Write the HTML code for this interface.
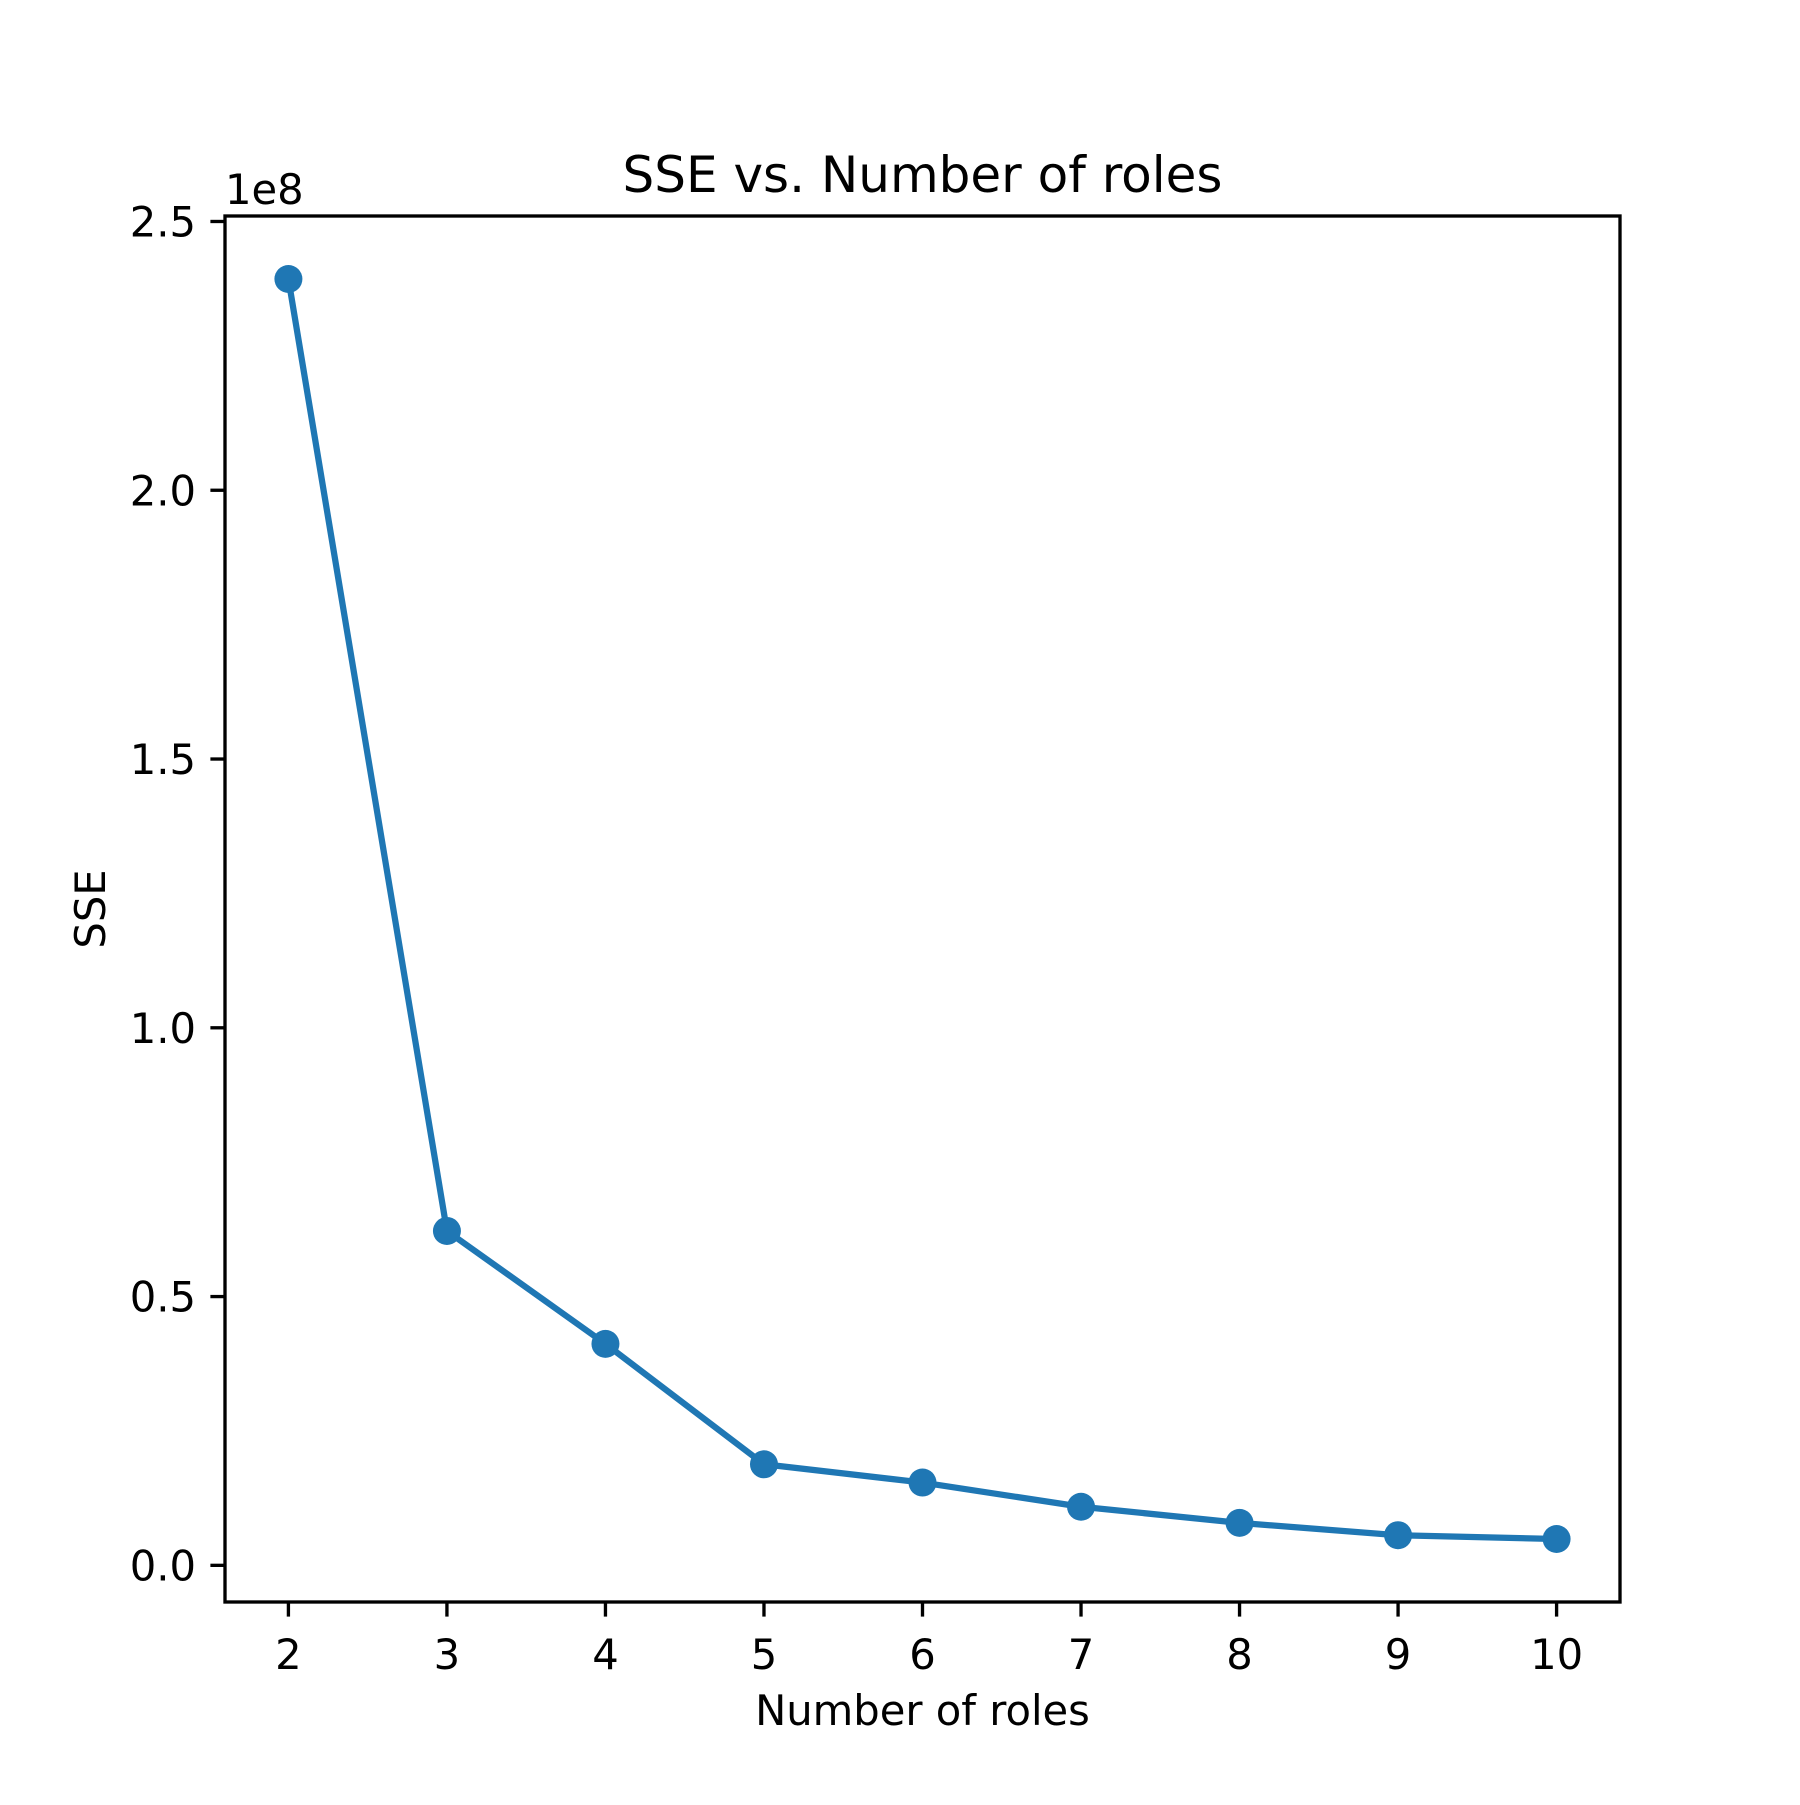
<!DOCTYPE html>
<html><head><meta charset="utf-8"><style>
body{margin:0;background:#fff}
svg text{font-family:"DejaVu Sans","Liberation Sans",sans-serif;fill:#000}
</style></head><body>
<svg id="chart" width="1800" height="1800" viewBox="0 0 1800 1800" xmlns="http://www.w3.org/2000/svg">
<rect width="1800" height="1800" fill="#fff"/>
<g id="plot"></g>
</svg>
<script>
const categories=[2,3,4,5,6,7,8,9,10];
const sseValues=[2.393e8,0.622e8,0.412e8,0.188e8,0.154e8,0.109e8,0.079e8,0.056e8,0.049e8];
const yTicks=[0,0.5e8,1.0e8,1.5e8,2.0e8,2.5e8];
const yTickLabels=["0.0","0.5","1.0","1.5","2.0","2.5"];
const L=225,R=1620,T=216,B=1602;
const xmin=Math.min(...categories),xmax=Math.max(...categories);
const xr=xmax-xmin,x0=xmin-0.05*xr,x1=xmax+0.05*xr;
const dmin=Math.min(...sseValues),dmax=Math.max(...sseValues),yr=dmax-dmin;
const y0=dmin-0.05*yr,y1=dmax+0.05*yr;
const X=v=>L+(v-x0)/(x1-x0)*(R-L);
const Y=v=>B-(v-y0)/(y1-y0)*(B-T);
const NS="http://www.w3.org/2000/svg",g=document.getElementById('plot');
function mk(t,a,txt){const e=document.createElementNS(NS,t);for(const k in a)e.setAttribute(k,a[k]);if(txt!==undefined)e.textContent=txt;g.appendChild(e);return e;}
const pts=categories.map((c,i)=>X(c)+','+Y(sseValues[i])).join(' ');
const ln=mk('polyline',{points:pts,fill:'none',stroke:'#1f77b4','stroke-width':6.25,'stroke-linejoin':'round'});


categories.forEach((c,i)=>{
 const p=mk('circle',{cx:X(c),cy:Y(sseValues[i]),r:14,fill:'#1f77b4'});
 
 
});
const fr=mk('rect',{x:L,y:T,width:R-L,height:B-T,fill:'none',stroke:'#000','stroke-width':3.33});


categories.forEach(c=>{
 const t=mk('line',{x1:X(c),x2:X(c),y1:B,y2:B+14.6,stroke:'#000','stroke-width':3.33});
 
 
 const l=mk('text',{x:X(c),y:B+29+38,'font-size':41.7,'text-anchor':'middle'},String(c));
 
 
});
yTicks.forEach((v,i)=>{
 const t=mk('line',{x1:L-14.6,x2:L,y1:Y(v),y2:Y(v),stroke:'#000','stroke-width':3.33});
 
 
 const l=mk('text',{x:L-29,y:Y(v)+15,'font-size':41.7,'text-anchor':'end'},yTickLabels[i]);
 
 
});
const off=mk('text',{x:L,y:T-12,'font-size':41.7},'1e8');


const ti=mk('text',{x:(L+R)/2,y:T-24,'font-size':50,'text-anchor':'middle'},'SSE vs. Number of roles');


const xl=mk('text',{x:(L+R)/2,y:1725,'font-size':41.7,'text-anchor':'middle'},'Number of roles');


const yl=mk('text',{x:0,y:0,'font-size':41.7,'text-anchor':'middle',transform:'translate(105,'+((T+B)/2)+') rotate(-90)'},'SSE');


</script>
</body></html>
